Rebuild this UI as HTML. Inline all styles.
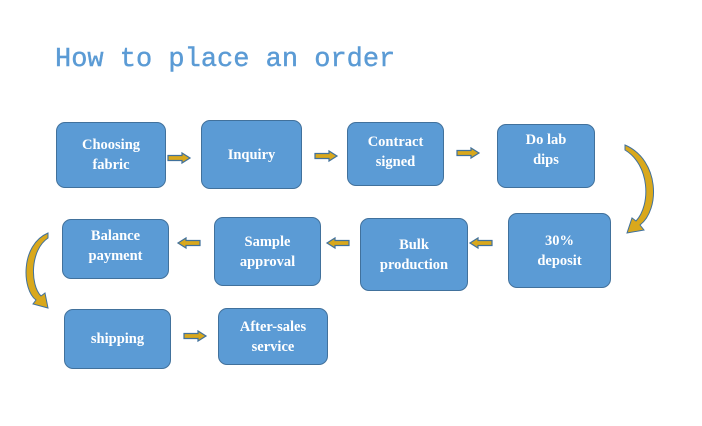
<!DOCTYPE html>
<html><head><style>
body{margin:0;width:702px;height:426px;background:#fff;position:relative;overflow:hidden;font-family:"Liberation Serif",serif}
.t{position:absolute;left:55px;top:45px;font-family:"Liberation Mono",monospace;font-size:27px;color:#5b9bd5;letter-spacing:0px;-webkit-text-stroke:0.4px #5b9bd5}
.b{position:absolute;background:#5b9bd5;border:1.5px solid #41719c;border-radius:9px;color:#fff;font-weight:bold;font-size:14.5px;line-height:20px;display:flex;align-items:center;justify-content:center;text-align:center;box-sizing:border-box}
svg{position:absolute;left:0;top:0}
</style></head><body>
<div class="t">How to place an order</div>
<div class="b" style="left:56px;top:122px;width:110px;height:66px">Choosing<br>fabric</div>
<div class="b" style="left:201px;top:120px;width:101px;height:69px">Inquiry</div>
<div class="b" style="left:347px;top:122px;width:97px;height:64px;padding-bottom:4px">Contract<br>signed</div>
<div class="b" style="left:497px;top:124px;width:98px;height:64px;padding-bottom:12px">Do lab<br>dips</div>
<div class="b" style="left:508px;top:213px;width:103px;height:75px">30%<br>deposit</div>
<div class="b" style="left:360px;top:218px;width:108px;height:73px">Bulk<br>production</div>
<div class="b" style="left:214px;top:217px;width:107px;height:69px">Sample<br>approval</div>
<div class="b" style="left:62px;top:219px;width:107px;height:60px;padding-bottom:6px">Balance<br>payment</div>
<div class="b" style="left:64px;top:309px;width:107px;height:60px">shipping</div>
<div class="b" style="left:218px;top:308px;width:110px;height:57px">After-sales<br>service</div>
<svg width="702" height="426">
<defs>
<g id="ar"><path d="M0,-2.5 H14 V-5 L22,0 L14,5 V2.5 H0 Z" fill="#d9a81c" stroke="#41719c" stroke-width="1.2"/></g>
</defs>
<use href="#ar" x="168" y="158"/>
<use href="#ar" x="315" y="156"/>
<use href="#ar" x="457" y="153"/>
<use href="#ar" transform="translate(492,243) scale(-1,1)"/>
<use href="#ar" transform="translate(349,243) scale(-1,1)"/>
<use href="#ar" transform="translate(200,243) scale(-1,1)"/>
<use href="#ar" x="184" y="336"/>
<path d="M625,145 C660,160 660,210 640,225 L644,230 L627,233 L632,218 L636,221 C651,205 650,165 625,150 Z" fill="#d9a81c" stroke="#41719c" stroke-width="1"/>
<path d="M48,233 C20,245 22,290 36,300 L33,304 L48,308 L45,293 L41,296 C30,285 30,250 48,238 Z" fill="#d9a81c" stroke="#41719c" stroke-width="1"/>
</svg>
</body></html>
